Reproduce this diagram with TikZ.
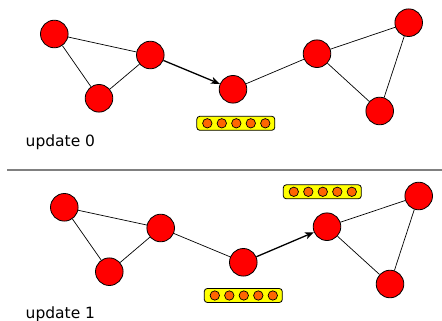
\documentclass[tikz,border=0pt]{standalone}
\usepackage{fontspec}
\setmainfont{DejaVu Sans}
\usetikzlibrary{arrows.meta}
\definecolor{vred}{RGB}{255,0,0}
\definecolor{vyel}{RGB}{255,255,0}
\definecolor{vorg}{RGB}{255,102,0}
\tikzset{
  vert/.style={circle, draw=black, fill=vred, line width=0.8pt, minimum size=27.6pt, inner sep=0pt},
  edge/.style={line width=0.7pt},
  move/.style={line width=1.3pt, -{Stealth[length=9pt,width=7pt,inset=2.5pt]}},
  bar/.style={rectangle, rounded corners=3pt, draw=black, fill=vyel, line width=0.8pt, minimum width=78pt, minimum height=14pt, inner sep=0pt},
  ball/.style={circle, draw=black, fill=vorg, line width=0.7pt, minimum size=9.4pt, inner sep=0pt},
  lbl/.style={font=\fontsize{15.5}{18}\selectfont, anchor=base west, inner sep=0pt},
  sep/.style={draw=black!50, line width=1.5pt}
}
\begin{document}
\begin{tikzpicture}[x=1pt,y=-1pt]
\useasboundingbox (0,0) rectangle (442,321);
% top panel
\node[vert] (a0) at (54.3,34) {};
\node[vert] (b0) at (150.3,55) {};
\node[vert] (c0) at (99,98.3) {};
\node[vert] (d0) at (233,89.3) {};
\node[vert] (e0) at (317,53.7) {};
\node[vert] (f0) at (408.7,22.7) {};
\node[vert] (g0) at (379.7,111) {};
\draw[edge] (a0) -- (b0);
\draw[edge] (a0) -- (c0);
\draw[edge] (b0) -- (c0);
\draw[edge] (d0) -- (e0);
\draw[edge] (e0) -- (f0);
\draw[edge] (e0) -- (g0);
\draw[edge] (f0) -- (g0);
\draw[move] (b0) -- (d0);
\node[bar] (bar0) at (235.8,123.3) {};
\foreach \i in {0,...,4} {
  \node[ball] (p0\i) at (207.3+14.5*\i,123.3) {};
}
\node[lbl] (u0) at (25.5,146.5) {update 0};
% separator
\coordinate (s1) at (7,170);
\coordinate (s2) at (442,170);
\draw[sep] (s1) -- (s2);
% bottom panel
\node[vert] (a1) at (64.3,207.3) {};
\node[vert] (b1) at (160.7,228) {};
\node[vert] (c1) at (109.3,271.7) {};
\node[vert] (d1) at (243.3,262.3) {};
\node[vert] (e1) at (327,226.7) {};
\node[vert] (f1) at (418.7,196) {};
\node[vert] (g1) at (390,284) {};
\draw[edge] (a1) -- (b1);
\draw[edge] (a1) -- (c1);
\draw[edge] (b1) -- (c1);
\draw[edge] (b1) -- (d1);
\draw[edge] (e1) -- (f1);
\draw[edge] (e1) -- (g1);
\draw[edge] (f1) -- (g1);
\draw[move] (d1) -- (e1);
\node[bar] (bar1) at (243.3,295.5) {};
\foreach \i in {0,...,4} {
  \node[ball] (p1\i) at (214.8+14.5*\i,295.5) {};
}
\node[bar] (bar2) at (322.3,191.8) {};
\foreach \i in {0,...,4} {
  \node[ball] (p2\i) at (293.8+14.5*\i,191.8) {};
}
\node[lbl] (u1) at (25.5,318.3) {update 1};
\end{tikzpicture}
\end{document}
